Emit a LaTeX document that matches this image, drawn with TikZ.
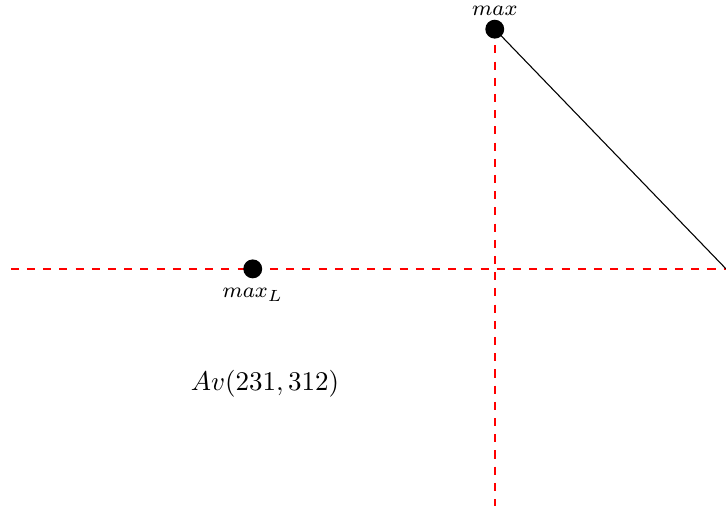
\documentclass[tikz,border=0pt]{standalone}
\usepackage{tikz}
\usetikzlibrary{
  positioning,
  calc,
  backgrounds
}
\usepackage{amsmath}

\begin{document}
\begin{tikzpicture}[
  dot/.style={circle, fill=black, inner sep=0pt, minimum size=7pt},
  guide/.style={red, dashed, semithick},
  tag/.style={font=\footnotesize}
]
\useasboundingbox (0,0) rectangle (9.45,6.59);

% extreme points
\node[dot] (max) at (6.44,6.21) {};
\node[dot] (maxL) at (3.29,3.09) {};
\node[tag, above=0pt of max, inner sep=1pt] (maxlab) {$max$};
\node[tag, below=0pt of maxL] (maxLlab) {$max_L$};

\coordinate (left) at (0.14,3.09);
\coordinate (right) at (9.45,3.09);
\coordinate (bottom) at (6.43,0);

\begin{scope}[on background layer]
  \draw[guide] (left) -- (right);
  \draw[guide] (max.center) -- (max.center |- bottom);
  \draw (max.center) -- (right);
\end{scope}

\node (av) at (3.45,1.60) {$Av(231,312)$};

\end{tikzpicture}
\end{document}
